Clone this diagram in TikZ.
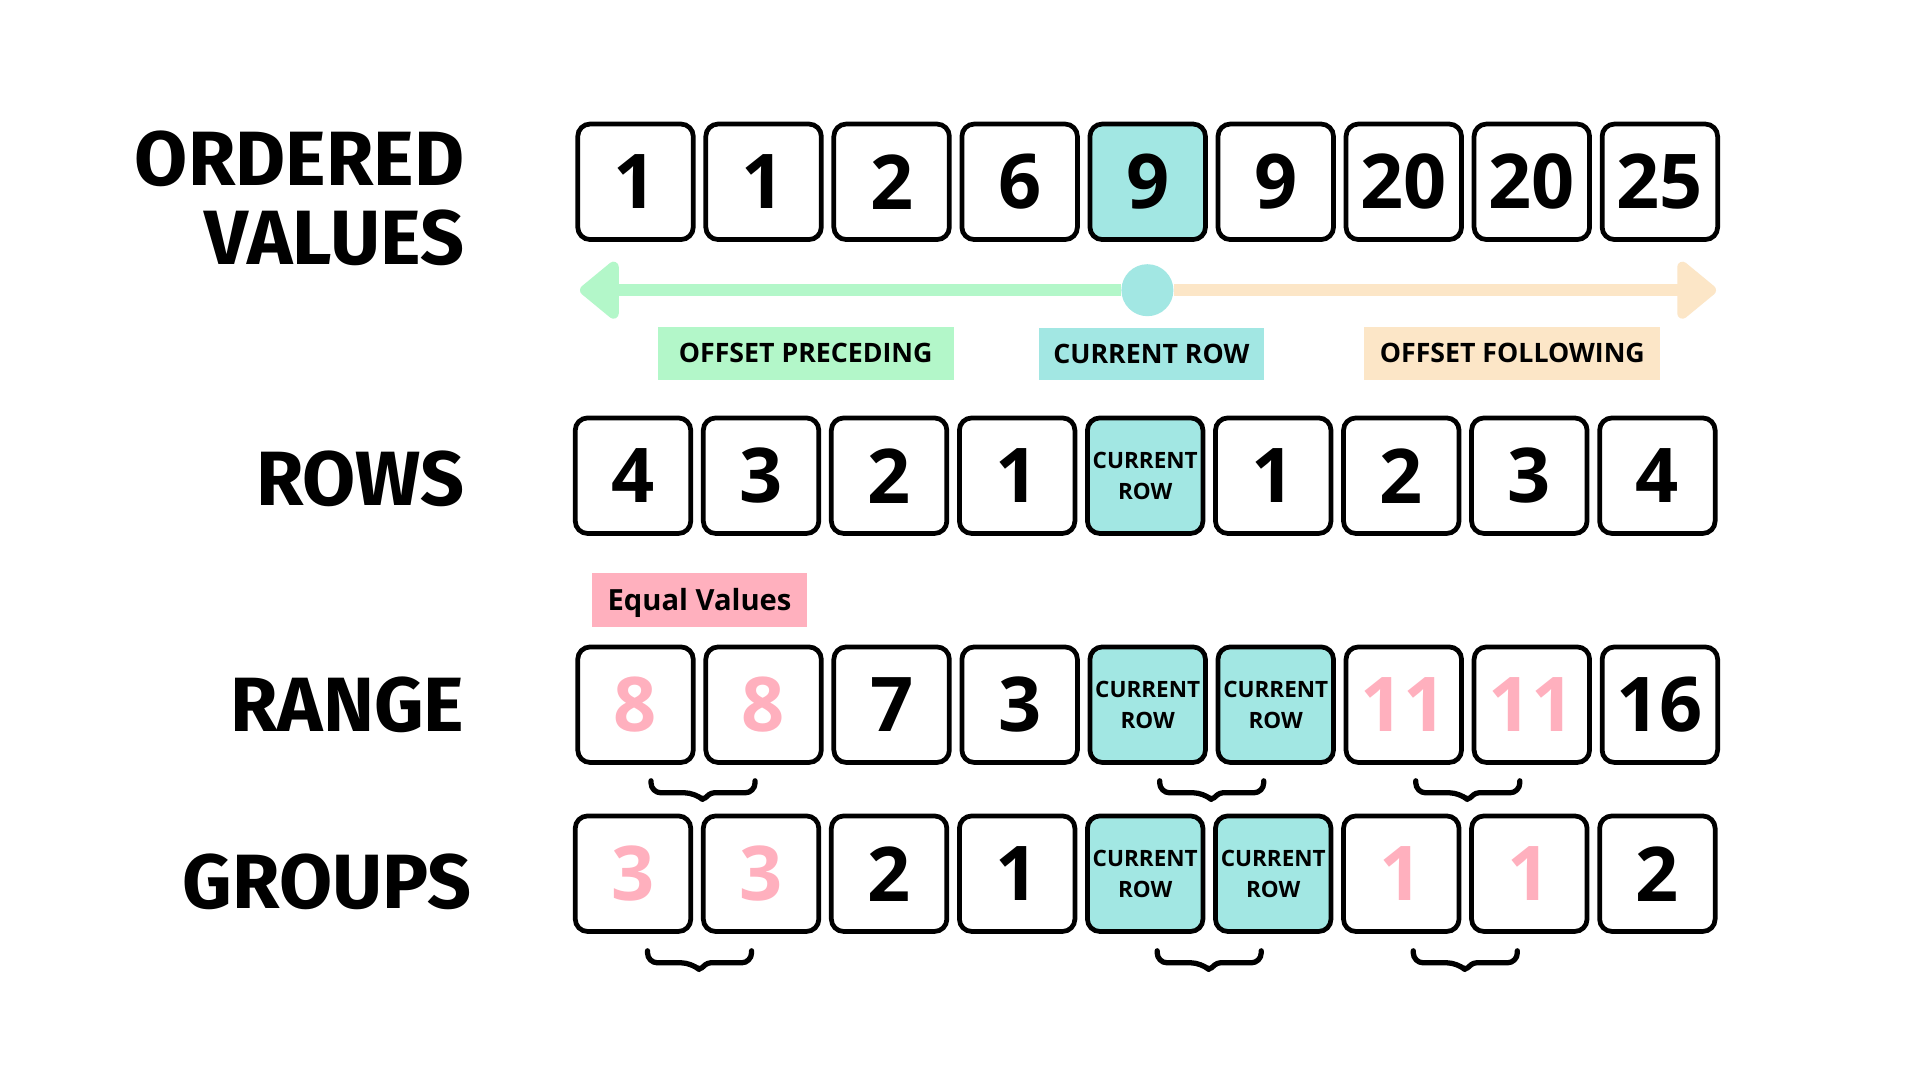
\documentclass[tikz,border=0pt]{standalone}
\usepackage{fontspec}
\setmainfont{Open Sans}
\newfontfamily\headfont{Fira Sans}
\usetikzlibrary{positioning}
\usetikzlibrary{calc}
\usetikzlibrary{arrows.meta}

\definecolor{curteal}{HTML}{A2E7E3}
\definecolor{precgreen}{HTML}{B3F7C9}
\definecolor{follpeach}{HTML}{FCE6C7}
\definecolor{eqpink}{HTML}{FFB0BE}

\tikzset{
  valbox/.style={draw=black, line width=1.35pt, rounded corners=3.5pt, fill=white,
    minimum width=1.155cm, minimum height=1.155cm, inner sep=0pt,
    font=\bfseries\fontsize{21.5}{24}\selectfont},
  curbox/.style={valbox, fill=curteal, align=center,
    font=\bfseries\fontsize{6.4}{8.7}\selectfont},
  eqbox/.style={valbox, text=eqpink},
  rowlabel/.style={inner sep=0pt, align=right,
    font=\headfont\bfseries\fontsize{21.9}{22.65}\selectfont},
  frametag/.style={inner sep=0pt, minimum height=0.526cm,
    font=\bfseries\fontsize{7.6}{9}\selectfont},
  precline/.style={draw=precgreen, line width=0.12cm,
    -{Triangle[length=0.42cm, width=0.66cm, round]}},
  follline/.style={draw=follpeach, line width=0.12cm,
    -{Triangle[length=0.42cm, width=0.66cm, round]}},
  grpbrace/.style={draw=black, line width=1.5pt, line join=round, line cap=round}
}

% brace under two neighbouring boxes
\newcommand{\groupbrace}[4]{%
  \path ([xshift=.12cm+#4, yshift=#3]#1.south) coordinate (bl)
        ([xshift=-.12cm+#4, yshift=#3]#2.south) coordinate (br)
        ($(bl)!.5!(br)$) coordinate (bm) ; %
  \draw[grpbrace] (bl) [rounded corners=.1cm] -- ++(0,-.12)
    -- ($(bm)+(-.08,-.12)$) [rounded corners=.03cm] -- ($(bm)+(0,-.19)$)
    -- ($(bm)+(.08,-.12)$) [rounded corners=.1cm] -- ($(br)+(0,-.12)$) -- (br) ; %
}

\begin{document}
\begin{tikzpicture}[node distance=0.078cm]
    \fill[white] (0,0) rectangle (19.2,-10.8) ; %
    \useasboundingbox (0,0) rectangle (19.2,-10.8) ; %
% row labels
    \node[rowlabel, anchor=north east] (ovlabel) at (4.65,-1.30) {ORDERED\\VALUES} ; %
    \node[rowlabel, anchor=base east] (rwlabel) at (4.65,-5.057) {ROWS} ; %
    \node[rowlabel, anchor=base east] (rglabel) at (4.65,-7.31) {RANGE} ; %
    \node[rowlabel, anchor=base east] (gplabel) at (4.72,-9.086) {GROUPS} ; %
% ordered values
    \node[valbox] (ov1) at (6.355,-1.818) {1} ; %
    \node[valbox, right=of ov1] (ov2) {1} ; %
    \node[valbox, right=of ov2] (ov3) {2} ; %
    \node[valbox, right=of ov3] (ov4) {6} ; %
    \node[valbox, fill=curteal, right=of ov4] (ov5) {9} ; %
    \node[valbox, right=of ov5] (ov6) {9} ; %
    \node[valbox, right=of ov6] (ov7) {20} ; %
    \node[valbox, right=of ov7] (ov8) {20} ; %
    \node[valbox, right=of ov8] (ov9) {25} ; %
% frame arrow
    \node[circle, fill=curteal, minimum size=0.52cm, inner sep=0pt] (cur) at (11.474,-2.902) {} ; %
    \coordinate (ltip) at (5.80,-2.902) ; %
    \coordinate (rtip) at (17.16,-2.902) ; %
    \draw[precline] (cur.west) -- (ltip) ; %
    \draw[follline] (cur.east) -- (rtip) ; %
    \node[frametag, fill=precgreen, minimum width=2.96cm] (prectag) at (8.057,-3.533) {OFFSET PRECEDING} ; %
    \node[frametag, fill=curteal, minimum width=2.25cm, below=0.1cm of cur, xshift=.04cm] (curtag) {CURRENT ROW} ; %
    \node[frametag, fill=follpeach, minimum width=2.96cm] (folltag) at (15.123,-3.533) {OFFSET FOLLOWING} ; %
% rows
    \node[valbox] (rw1) at (6.33,-4.757) {4} ; %
    \node[valbox, right=of rw1] (rw2) {3} ; %
    \node[valbox, right=of rw2] (rw3) {2} ; %
    \node[valbox, right=of rw3] (rw4) {1} ; %
    \node[curbox, right=of rw4] (rw5) {CURRENT\\ROW} ; %
    \node[valbox, right=of rw5] (rw6) {1} ; %
    \node[valbox, right=of rw6] (rw7) {2} ; %
    \node[valbox, right=of rw7] (rw8) {3} ; %
    \node[valbox, right=of rw8] (rw9) {4} ; %
% range
    \node[eqbox] (rg1) at (6.355,-7.047) {8} ; %
    \node[eqbox, right=of rg1] (rg2) {8} ; %
    \node[valbox, right=of rg2] (rg3) {7} ; %
    \node[valbox, right=of rg3] (rg4) {3} ; %
    \node[curbox, right=of rg4] (rg5) {CURRENT\\ROW} ; %
    \node[curbox, right=of rg5] (rg6) {CURRENT\\ROW} ; %
    \node[eqbox, right=of rg6] (rg7) {11} ; %
    \node[eqbox, right=of rg7] (rg8) {11} ; %
    \node[valbox, right=of rg8] (rg9) {16} ; %
    \node[frametag, fill=eqpink, minimum width=2.155cm, minimum height=0.54cm, text depth=0pt,
      font=\bfseries\fontsize{8.3}{10}\selectfont,
      above=0.17cm of rg1, xshift=.64cm] (eqtag) {Equal Values} ; %
% groups
    \node[eqbox] (gp1) at (6.33,-8.737) {3} ; %
    \node[eqbox, right=of gp1] (gp2) {3} ; %
    \node[valbox, right=of gp2] (gp3) {2} ; %
    \node[valbox, right=of gp3] (gp4) {1} ; %
    \node[curbox, right=of gp4] (gp5) {CURRENT\\ROW} ; %
    \node[curbox, right=of gp5] (gp6) {CURRENT\\ROW} ; %
    \node[eqbox, right=of gp6] (gp7) {1} ; %
    \node[eqbox, right=of gp7] (gp8) {1} ; %
    \node[valbox, right=of gp8] (gp9) {2} ; %
% braces
    \groupbrace{rg1}{rg2}{-.16cm}{.035cm}
    \groupbrace{rg5}{rg6}{-.16cm}{0cm}
    \groupbrace{rg7}{rg8}{-.16cm}{0cm}
    \groupbrace{gp1}{gp2}{-.17cm}{.025cm}
    \groupbrace{gp5}{gp6}{-.17cm}{0cm}
    \groupbrace{gp7}{gp8}{-.17cm}{0cm}
\end{tikzpicture}
\end{document}
